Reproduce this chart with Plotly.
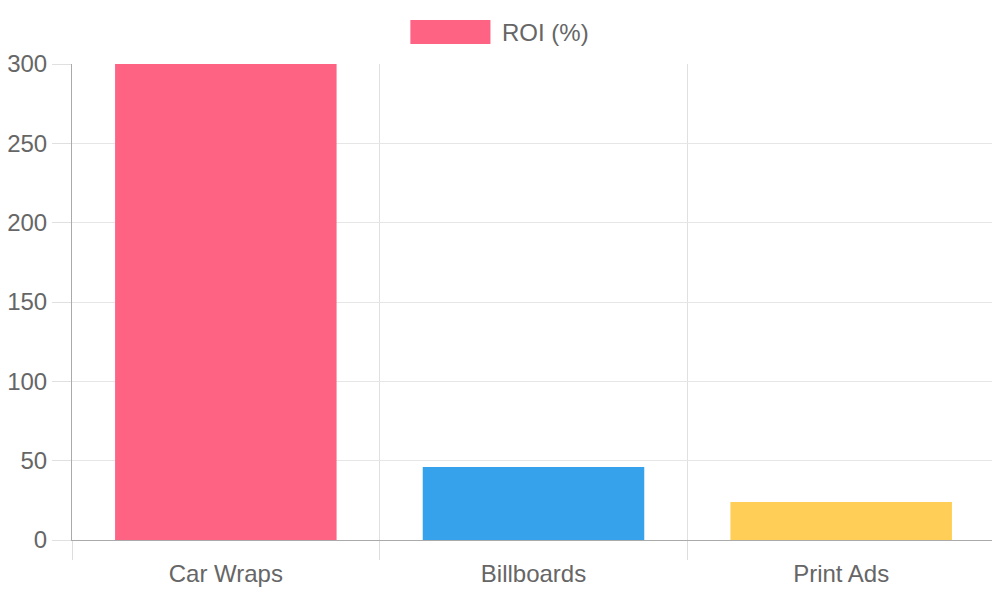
import plotly.graph_objects as go

categories = ["Car Wraps", "Billboards", "Print Ads"]
roi_values = [300, 46, 24]
bar_colors = ["#FF6384", "#36A2EB", "#FFCE56"]
series_name = "ROI (%)"
y_ticks = [0, 50, 100, 150, 200, 250, 300]

FONT = "Liberation Sans, Arial, sans-serif"
TEXT = "#666666"

fig = go.Figure()
fig.add_trace(go.Bar(
    x=categories,
    y=roi_values,
    name=series_name,
    marker=dict(color=bar_colors, line=dict(width=0)),
    showlegend=False,
))

fig.update_layout(
    width=1000,
    height=600,
    margin=dict(l=64, r=13, t=56, b=68, autoexpand=False),
    paper_bgcolor="white",
    plot_bgcolor="white",
    bargap=0.28,
    font=dict(family=FONT, size=24, color=TEXT),
    xaxis=dict(
        type="category",
        tickson="boundaries",
        showgrid=True,
        gridcolor="#e0e0e0",
        gridwidth=1,
        ticks="outside",
        ticklen=19,
        tickcolor="#dddddd",
        showline=True,
        linecolor="#aaaaaa",
        linewidth=1,
        ticklabelstandoff=12,
        automargin=False,
        tickfont=dict(family=FONT, size=24, color=TEXT),
        fixedrange=True,
    ),
    yaxis=dict(
        range=[0, 300],
        tickvals=y_ticks,
        showgrid=True,
        gridcolor="#e6e6e6",
        gridwidth=1,
        zeroline=False,
        ticks="outside",
        ticklen=19,
        tickcolor="#e0e0e0",
        showline=True,
        linecolor="#aaaaaa",
        linewidth=1,
        automargin=False,
        tickfont=dict(family=FONT, size=24, color=TEXT),
        fixedrange=True,
    ),
    shapes=[dict(
        type="rect", xref="paper", yref="paper",
        x0=(410 - 72) / 922, x1=(490 - 72) / 922,
        y0=(540 - 44) / 476, y1=(540 - 20) / 476,
        fillcolor=bar_colors[0], line=dict(width=0),
    )],
    annotations=[dict(
        text=series_name, xref="paper", yref="paper",
        x=(500 - 72) / 922, y=(540 - 32) / 476,
        xanchor="left", yanchor="middle", showarrow=False,
        font=dict(family=FONT, size=24, color=TEXT),
    )],
)

fig.write_html("out.html")
